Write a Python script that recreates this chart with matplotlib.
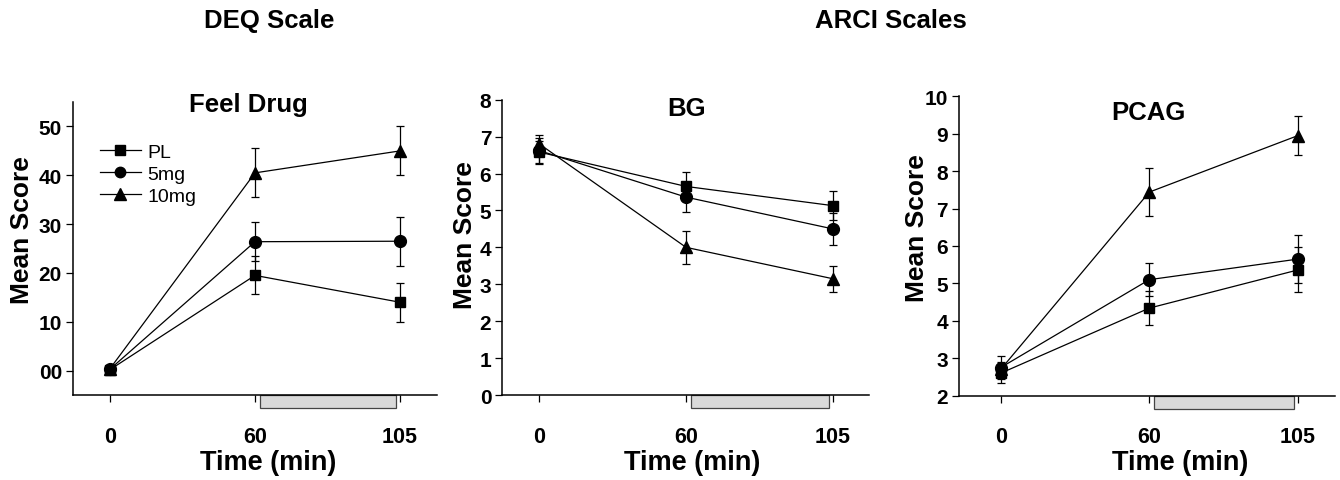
import matplotlib
matplotlib.use("Agg")
import matplotlib.pyplot as plt
from matplotlib.patches import Rectangle
from matplotlib.lines import Line2D
import matplotlib.transforms as mtransforms

plt.rcParams["font.family"] = ["Liberation Sans", "DejaVu Sans"]
plt.rcParams["font.weight"] = "bold"

## Data -------------------

times = ["0", "60", "105"]
groups = ["PL", "5mg", "10mg"]
markers = ["s", "o", "^"]
msizes = [7.5, 8.5, 9]

# Feel Drug (DEQ)
feel_mean = {"PL": [0.2, 19.5, 14.0], "5mg": [0.3, 26.4, 26.5], "10mg": [0.4, 40.5, 45.0]}
feel_err = {"PL": [0.5, 3.9, 4.0], "5mg": [0.5, 4.0, 5.0], "10mg": [0.5, 5.0, 5.0]}

# BG (ARCI)
bg_mean = {"PL": [6.58, 5.65, 5.13], "5mg": [6.62, 5.36, 4.5], "10mg": [6.8, 4.0, 3.15]}
bg_err = {"PL": [0.3, 0.38, 0.4], "5mg": [0.35, 0.4, 0.43], "10mg": [0.25, 0.45, 0.35]}

# PCAG (ARCI)
pcag_mean = {"PL": [2.6, 4.34, 5.36], "5mg": [2.75, 5.1, 5.65], "10mg": [2.7, 7.44, 8.95]}
pcag_err = {"PL": [0.25, 0.45, 0.6], "5mg": [0.3, 0.44, 0.65], "10mg": [0.2, 0.65, 0.52]}

## Plotting -------------------

fig = plt.figure(figsize=(13.4, 4.81), dpi=100)

panels = [
    # rect, title, means, errs, ylim, yticks, ticklabels, title pos, ylabel pos, xlabel pos, xlim
    ([0.0545, 0.1767, 0.2716, 0.609], "Feel Drug", feel_mean, feel_err, (-5, 55),
     [0, 10, 20, 30, 40, 50], ["00", "10", "20", "30", "40", "50"],
     (0.482, 0.993), (-0.14, 0.567), (0.537, -0.229), (-0.255, 2.255)),
    ([0.3749, 0.1767, 0.2739, 0.614], "BG", bg_mean, bg_err, (0, 8),
     list(range(0, 9)), [str(v) for v in range(0, 9)],
     (0.502, 0.972), (-0.103, 0.545), (0.516, -0.227), (-0.252, 2.25)),
    ([0.7157, 0.1753, 0.2806, 0.6224], "PCAG", pcag_mean, pcag_err, (2, 10),
     list(range(2, 11)), [str(v) for v in range(2, 11)],
     (0.503, 0.947), (-0.112, 0.563), (0.588, -0.222), (-0.28, 2.25)),
]

for i, (rect, title, means, errs, ylim, yticks, ylabs, tpos, ylpos, xlpos, xlim) in enumerate(panels):
    ax = fig.add_axes(rect)
    x = list(range(len(times)))
    for g, m, ms in zip(groups, markers, msizes):
        ax.errorbar(x, means[g], yerr=errs[g], color="black", marker=m,
                    markersize=ms, linewidth=0.9, elinewidth=0.9, capsize=3,
                    capthick=0.9, label=g, clip_on=False, zorder=3)
    ax.set_xlim(*xlim)
    ax.set_ylim(*ylim)
    ax.set_xticks(x)
    ax.set_xticklabels(times)
    ax.set_yticks(yticks)
    ax.set_yticklabels(ylabs)
    ax.spines["top"].set_visible(False)
    ax.spines["right"].set_visible(False)
    for s in ["left", "bottom"]:
        ax.spines[s].set_linewidth(1.1)
    ax.tick_params(axis="y", length=5, width=0.9, pad=3, labelsize=15)
    ax.tick_params(axis="x", length=5, width=0.9, pad=17, labelsize=15.5)

    # gray bar marking the period between 60 and 105
    trans = mtransforms.blended_transform_factory(ax.transData, ax.transAxes)
    ax.add_patch(Rectangle((1.035, -0.044), 0.94, 0.044, transform=trans,
                           facecolor="#d9d9d9", edgecolor="#444444",
                           linewidth=0.9, clip_on=False))

    ax.text(tpos[0], tpos[1], title, transform=ax.transAxes, ha="center",
            va="center", fontsize=18.5, fontweight="bold")
    ax.set_ylabel("Mean Score", fontsize=19, fontweight="bold")
    ax.yaxis.label.set_va("center")
    ax.yaxis.set_label_coords(*ylpos)
    ax.set_xlabel("Time (min)", fontsize=19.5, fontweight="bold")
    ax.xaxis.label.set_va("center")
    ax.xaxis.set_label_coords(*xlpos)

    if i == 0:
        handles = [Line2D([], [], color="black", marker=m, markersize=ms - 1,
                          linewidth=0.9) for m, ms in zip(markers, msizes)]
        ax.legend(handles, groups, loc="upper left", bbox_to_anchor=(0.074, 0.858),
                  frameon=False, prop={"size": 14, "weight": "normal"},
                  handlelength=2.1, handletextpad=0.35, labelspacing=0.22,
                  borderpad=0, borderaxespad=0)

fig.text(269 / 1340, 1 - 21 / 481, "DEQ Scale", ha="center", va="center",
         fontsize=18.5, fontweight="bold")
fig.text(891 / 1340, 1 - 21 / 481, "ARCI Scales", ha="center", va="center",
         fontsize=18.5, fontweight="bold")

fig.savefig("out.png", dpi=100)
